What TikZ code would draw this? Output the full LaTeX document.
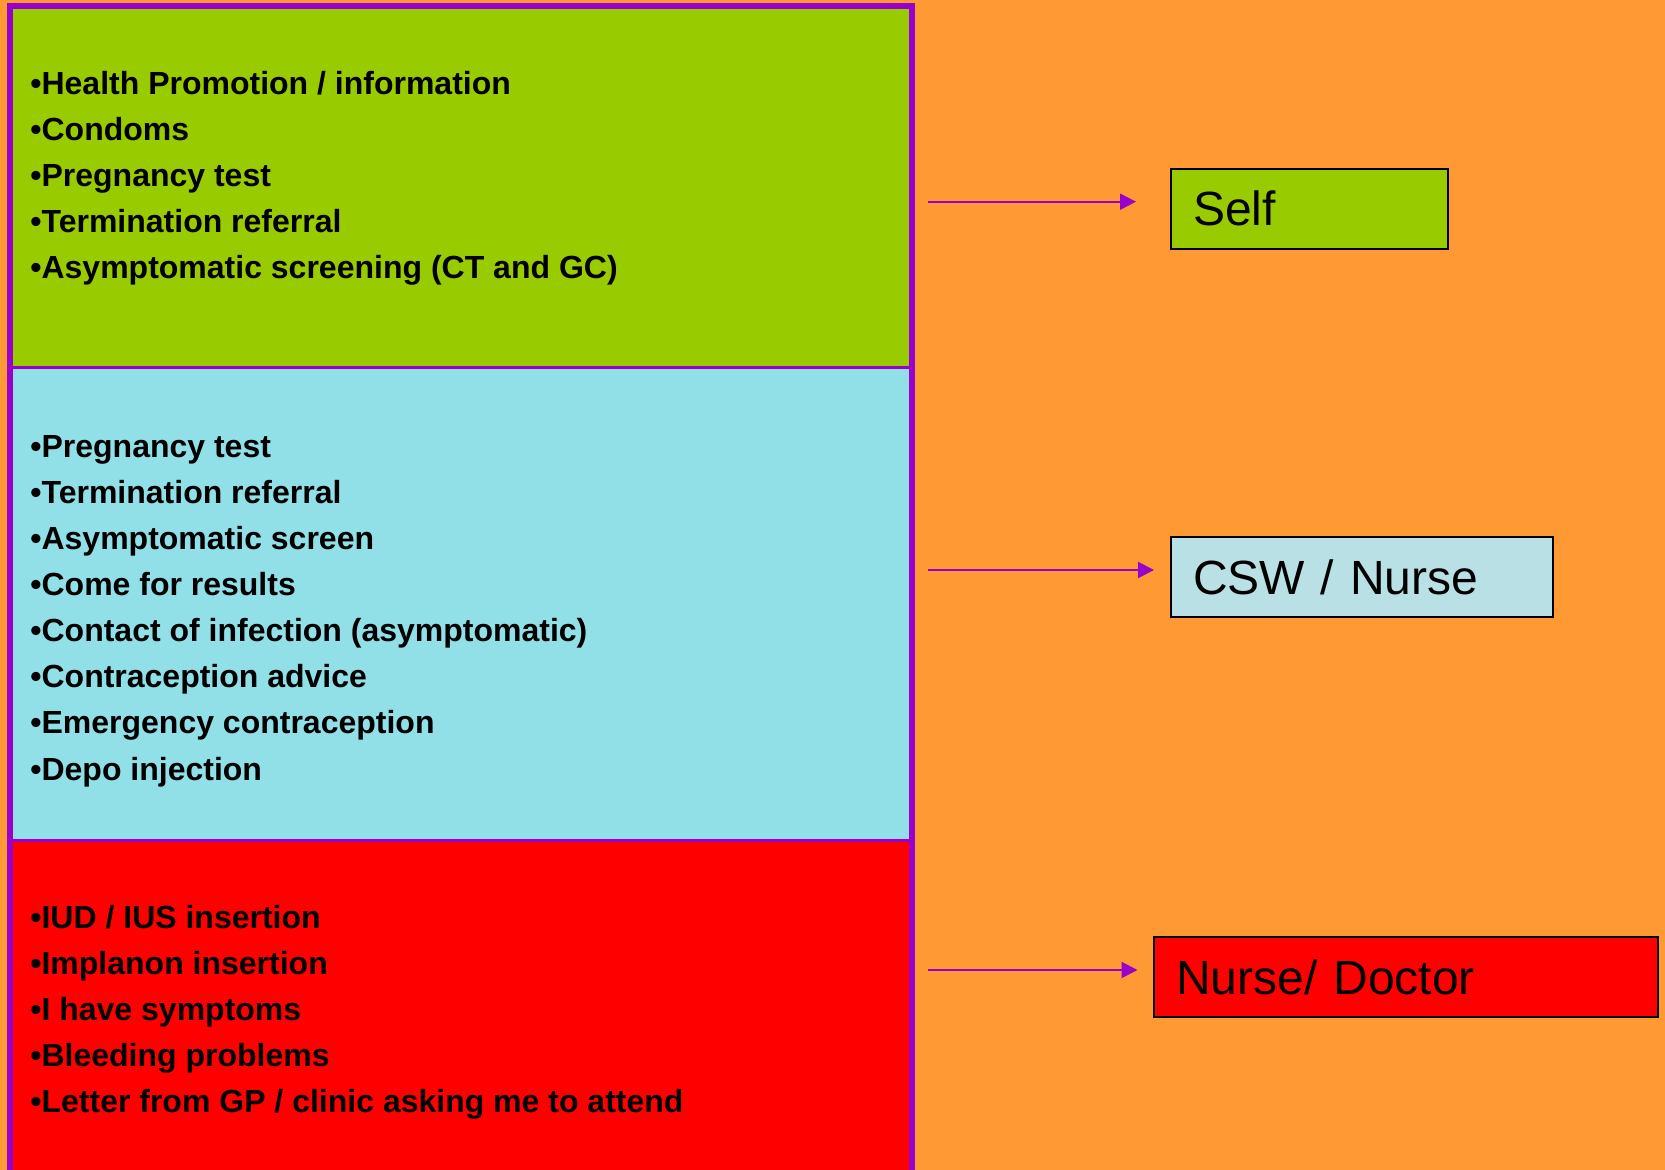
\documentclass[tikz,border=0pt]{standalone}
\usepackage{fontspec}
\setmainfont{Liberation Sans}
\usetikzlibrary{arrows.meta,calc}

\definecolor{bg}{HTML}{FF9933}
\definecolor{frame}{HTML}{9900CC}
\definecolor{leaf}{HTML}{99CC00}
\definecolor{sky}{HTML}{91E0E7}
\definecolor{skylight}{HTML}{B9E0E4}
\definecolor{alarm}{HTML}{FF0000}

\tikzstyle{panel}=[draw=frame,line width=1.5pt,inner sep=0pt,outer sep=0pt,anchor=north west,minimum width=451pt]
\tikzstyle{item}=[anchor=base west,inner sep=0pt,font=\fontsize{16}{19}\selectfont\bfseries]
\tikzstyle{role}=[draw=black,line width=1pt,inner xsep=11pt,inner ysep=0pt,minimum height=40pt,text height=17.2pt,text depth=0pt,align=left,font=\fontsize{24}{28}\selectfont]
\tikzstyle{link}=[draw=frame,line width=1pt,-{Triangle[length=8pt,width=8pt]}]

\begin{document}
\begin{tikzpicture}[x=0.5pt, y=-0.5pt]
    \useasboundingbox (0,0) rectangle (1665,1170);
    \clip (0,0) rectangle (1665,1170);
    \fill[bg] (0,0) rectangle (1665,1170);

    % First the three coloured panels
    \node[panel, fill=leaf, minimum height=180.75pt] (green) at (10,6.5) {};
    \node[panel, fill=sky, minimum height=236pt] (cyan) at (10,368) {};
    \node[panel, fill=alarm, minimum height=175pt] (red) at (10,840) {};
    \draw[frame, line width=3pt] (red.south west) -- (green.north west) -- (green.north east) -- (red.south east);

    % Then the lists inside them
    \foreach \txt [count=\i] in {•Health Promotion / information, •Condoms, •Pregnancy test,
        •Termination referral, •Asymptomatic screening (CT and GC)}
        \node[item] (g\i) at (30,{95+(\i-1)*45.9}) {\txt};
    \foreach \txt [count=\i] in {•Pregnancy test, •Termination referral, •Asymptomatic screen,
        •Come for results, •Contact of infection (asymptomatic), •Contraception advice,
        •Emergency contraception, •Depo injection}
        \node[item] (c\i) at (30,{457.3+(\i-1)*46.1}) {\txt};
    \foreach \txt [count=\i] in {•IUD / IUS insertion, •Implanon insertion, •I have symptoms,
        •Bleeding problems, •Letter from GP / clinic asking me to attend}
        \node[item] (r\i) at (30,{928.7+(\i-1)*46}) {\txt};

    % Who sees you
    \node[role, fill=leaf, text width=116.5pt] (self) at (1309.5,208.7) {Self};
    \node[role, fill=skylight, text width=169pt] (csw) at (1362,577) {CSW / Nurse};
    \node[role, fill=alarm, text width=230pt] (doctor) at (1406,977) {Nurse/ Doctor};

    % Connect panels with roles
    \draw[link] ($(green.east |- self.west)+(16,-7)$) -- ($(self.west)+(-34,-7)$);
    \draw[link] ($(cyan.east |- csw.west)+(16,-7)$) -- ($(csw.west)+(-16,-7)$);
    \draw[link] ($(red.east |- doctor.west)+(16,-7)$) -- ($(doctor.west)+(-15.5,-7)$);
\end{tikzpicture}
\end{document}
